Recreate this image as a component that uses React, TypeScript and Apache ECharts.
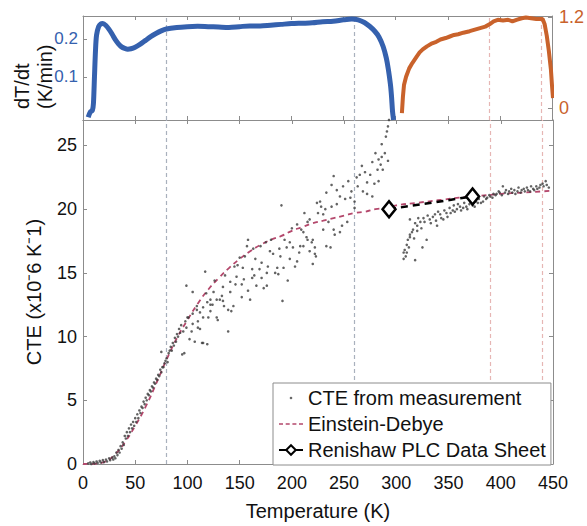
import React, { useEffect, useRef } from "react";
import * as echarts from "echarts";

const FONT = "'Liberation Sans', Arial, Helvetica, sans-serif";

// Temperature axis ticks (K)
const tempTicks = [0, 50, 100, 150, 200, 250, 300, 350, 400, 450];
const cteTicks = [0, 5, 10, 15, 20, 25];
const rateTicks = [0.1, 0.2];
const orangeTicks = [0, 1.2];

// Vertical reference lines (K)
const greyMarkers = [80, 260];
const pinkMarkers = [390, 440];

// Top panel: dT/dt (K/min), blue, left axis
const blueRate: [number, number][] = [
  [5, -0.006], [7, 0.008], [9, 0.012], [10, 0.03], [11, 0.1], [12, 0.17], [13, 0.21], [15, 0.232],
  [17, 0.239], [19, 0.24], [22, 0.235], [25, 0.225], [28, 0.212], [31, 0.198], [34, 0.187], [37, 0.179],
  [40, 0.175], [43, 0.173], [46, 0.174], [50, 0.178], [55, 0.186], [60, 0.196], [65, 0.206], [70, 0.214],
  [75, 0.221], [80, 0.226], [90, 0.23], [100, 0.232], [110, 0.233], [120, 0.232], [130, 0.231],
  [140, 0.23], [150, 0.232], [160, 0.234], [170, 0.234], [180, 0.236], [190, 0.238], [200, 0.24],
  [210, 0.241], [220, 0.242], [230, 0.245], [240, 0.246], [250, 0.25], [258, 0.252], [264, 0.25],
  [270, 0.243], [275, 0.233], [280, 0.22], [284, 0.205], [288, 0.18], [291, 0.15], [293, 0.12],
  [295, 0.08], [296, 0.05], [297, 0.01], [298, -0.013],
];

// Top panel: orange, right axis
const orangeRate: [number, number][] = [
  [306, -0.07], [307, 0.15], [308, 0.3], [310, 0.41], [313, 0.52], [316, 0.59], [320, 0.67], [323, 0.73],
  [326, 0.77], [330, 0.81], [335, 0.85], [339, 0.87], [343, 0.9], [348, 0.92], [352, 0.94], [356, 0.96],
  [360, 0.97], [365, 0.99], [371, 1.01], [376, 1.03], [381, 1.05], [386, 1.07], [390, 1.1], [394, 1.14],
  [398, 1.16], [403, 1.15], [408, 1.16], [412, 1.14], [416, 1.16], [421, 1.18], [425, 1.19], [430, 1.18],
  [435, 1.17], [441, 1.17], [443, 1.1], [445, 0.95], [447, 0.75], [449, 0.5], [450, 0.3], [451, 0.13],
];

// Einstein-Debye model curve
const edTemp = [0, 10, 20, 30, 40, 50, 60, 70, 80, 90, 100, 110, 120, 130, 140, 150, 160, 170, 180, 190,
  200, 210, 220, 230, 240, 250, 260, 270, 280, 290, 300, 320, 340, 360, 380, 400, 420, 440, 450];
const edCte = [0, 0.02, 0.15, 0.7, 1.7, 3.0, 4.5, 6.3, 8.2, 9.9, 11.3, 12.6, 13.7, 14.6, 15.4, 16.1,
  16.7, 17.2, 17.6, 17.9, 18.3, 18.6, 18.9, 19.1, 19.3, 19.5, 19.7, 19.8, 20.0, 20.1, 20.3, 20.5, 20.7,
  20.9, 21.05, 21.2, 21.3, 21.4, 21.45];

// Renishaw PLC data sheet
const renishawTemp = [293, 373];
const renishawCte = [20.0, 21.0];

// CTE from measurement [T, CTE]
const measured: [number, number][] = [
  [5, 0.05], [7, 0.12], [8, 0.0], [10, 0.15], [11, 0.05], [13, 0.2], [14, 0.08], [16, 0.25], [17, 0.12],
  [19, 0.3], [20, 0.15], [22, 0.35], [23, 0.2], [25, 0.45], [26, 0.3], [28, 0.5], [29, 0.35], [30, 0.6],
  [31, 0.45], [32, 0.9], [33, 0.7], [34, 1.1], [35, 0.9], [36, 1.4], [37, 1.2], [38, 1.7], [39, 1.5],
  [40, 2.2], [41, 2.0], [42, 2.5], [43, 2.2], [44, 2.8], [45, 2.5], [46, 3.1], [47, 2.8], [48, 3.3],
  [49, 3.0], [50, 3.6], [51, 3.3], [52, 3.9], [53, 3.6], [54, 4.2], [55, 4.0], [56, 4.5], [57, 4.4],
  [58, 4.9], [59, 4.7], [60, 5.2], [61, 5.0], [62, 5.5], [63, 5.4], [64, 5.8], [65, 5.7], [66, 6.1],
  [67, 6.0], [68, 6.4], [69, 6.3], [70, 6.7], [71, 6.6], [72, 7.0], [73, 6.9], [74, 7.4], [75, 7.2],
  [75, 8.8], [76, 7.6], [77, 7.6], [78, 7.9], [79, 8.1], [80, 8.3], [81, 8.0], [82, 8.7], [83, 8.9],
  [84, 9.2], [85, 8.9], [86, 9.5], [87, 9.3], [88, 9.9], [89, 9.6], [90, 10.2], [91, 10.0], [92, 10.6],
  [93, 10.3], [94, 10.9], [95, 8.6], [96, 10.4], [97, 8.7], [98, 11.2], [99, 10.7], [99, 14.0],
  [100, 11.5], [101, 11.5], [102, 9.8], [104, 10.4], [105, 11.0], [105, 11.8], [105, 13.5], [107, 9.6],
  [109, 12.1], [109, 12.4], [110, 10.7], [110, 11.2], [112, 10.6], [112, 11.9], [114, 9.5], [115, 12.3],
  [115, 11.5], [115, 9.5], [117, 15.1], [118, 13.4], [119, 12.7], [119, 9.4], [120, 11.5], [122, 12.0],
  [122, 12.9], [122, 12.5], [124, 12.5], [125, 13.5], [126, 14.4], [128, 12.9], [128, 11.5], [129, 11.3],
  [131, 12.9], [133, 13.2], [134, 13.9], [134, 12.8], [135, 12.4], [136, 14.8], [139, 12.1], [139, 10.4],
  [141, 14.3], [141, 13.5], [142, 12.0], [144, 12.4], [145, 15.5], [146, 14.1], [147, 14.7], [148, 15.6],
  [150, 16.2], [152, 14.1], [152, 13.1], [153, 15.4], [154, 14.5], [155, 16.3], [157, 17.1], [158, 17.6],
  [158, 13.6], [160, 12.9], [162, 15.3], [162, 14.6], [163, 16.9], [164, 14.8], [165, 16.1], [166, 14.0],
  [169, 15.3], [170, 17.1], [171, 15.8], [171, 14.6], [173, 13.8], [175, 17.4], [176, 15.0], [176, 14.0],
  [177, 15.5], [179, 16.7], [180, 17.6], [182, 16.5], [184, 15.0], [186, 15.4], [187, 14.9], [188, 16.9],
  [189, 16.3], [190, 20.3], [191, 12.8], [192, 15.4], [193, 17.6], [195, 17.0], [196, 14.4], [198, 17.4],
  [198, 16.1], [200, 18.5], [201, 17.0], [203, 15.5], [205, 18.8], [205, 15.9], [207, 16.6], [208, 17.1],
  [209, 18.4], [211, 18.2], [211, 17.1], [212, 19.7], [214, 17.8], [215, 19.0], [215, 17.6], [217, 19.2],
  [217, 16.7], [219, 17.4], [220, 17.6], [220, 15.7], [222, 16.5], [222, 17.0], [223, 16.3], [224, 20.5],
  [225, 19.7], [227, 20.6], [228, 20.2], [230, 19.6], [230, 18.4], [232, 20.0], [233, 21.3], [233, 17.1],
  [235, 19.0], [237, 17.0], [238, 21.9], [238, 20.2], [240, 22.6], [240, 18.4], [241, 18.0], [243, 20.4],
  [243, 21.5], [246, 21.0], [246, 18.2], [248, 18.7], [249, 21.8], [251, 20.8], [253, 19.0], [254, 22.2],
  [256, 20.9], [257, 21.4], [260, 20.6], [260, 20.1], [262, 22.5], [263, 21.8], [265, 22.7], [267, 23.4],
  [268, 21.4], [270, 22.9], [272, 22.1], [272, 21.2], [275, 22.7], [277, 23.7], [277, 21.0], [279, 22.0],
  [280, 24.4], [282, 23.1], [283, 23.9], [283, 22.2], [285, 23.5], [286, 25.1], [286, 24.1], [287, 23.1],
  [289, 24.4], [290, 25.7], [291, 26.1], [292, 26.5], [292, 23.8], [293, 27.0],
  [307, 16.1], [307, 16.6], [308, 16.8], [309, 16.3], [310, 17.2], [310, 16.6], [311, 17.6], [312, 17.0],
  [313, 18.0], [313, 17.8], [313, 19.2], [315, 18.2], [316, 18.4], [317, 17.7], [318, 16.0], [318, 18.9],
  [320, 18.3], [320, 18.7], [321, 19.3], [323, 19.0], [324, 18.5], [325, 17.0], [326, 19.3], [327, 19.0],
  [329, 17.6], [330, 19.5], [332, 19.2], [333, 18.9], [335, 19.4], [337, 19.6], [338, 19.1], [339, 18.7],
  [340, 19.8], [342, 19.6], [343, 19.3], [345, 19.2], [346, 19.9], [348, 19.7], [349, 19.4], [351, 20.1],
  [352, 19.7], [354, 19.9], [355, 20.3], [356, 19.8], [358, 20.0], [359, 20.4], [361, 20.2], [362, 19.9],
  [364, 20.1], [365, 20.5], [367, 20.2], [368, 20.0], [370, 20.4], [371, 20.6], [373, 20.3], [375, 20.2],
  [376, 20.6], [378, 20.5], [379, 20.8], [381, 20.5], [383, 20.6], [384, 21.0], [386, 20.8], [387, 20.9],
  [389, 21.1], [390, 21.0], [392, 20.9], [393, 21.2], [395, 21.1], [396, 21.2], [398, 21.4], [399, 21.3],
  [401, 21.1], [402, 21.8], [404, 21.3], [405, 21.5], [407, 21.2], [408, 21.4], [410, 21.6], [411, 21.3],
  [413, 21.5], [414, 21.2], [416, 21.4], [417, 21.7], [419, 21.3], [420, 21.5], [422, 21.6], [423, 21.4],
  [425, 21.7], [426, 21.5], [428, 21.4], [429, 21.8], [431, 21.6], [432, 21.5], [434, 21.8], [435, 21.6],
  [437, 21.7], [438, 21.9], [440, 22.0], [441, 21.8], [443, 22.2], [444, 21.9], [446, 21.7],
];

const AXIS_COLOR = "#8c8c8c";
const BLUE = "#3561ae";
const ORANGE = "#c9622b";
const ED_COLOR = "#b4486c";
const GREY_MARK = "#a9b1bd";
const PINK_MARK = "#e6b6b4";

const dotIcon = "path://M0,0M24,0M24,12M0,12M10.7,6a1.3,1.3 0 1,0 2.6,0a1.3,1.3 0 1,0 -2.6,0z";
const dashIcon =
  "path://M0,0M24,12M0,5.2h4v1.6h-4zM6.7,5.2h4v1.6h-4zM13.4,5.2h4v1.6h-4zM20,5.2h4v1.6h-4z";

function baseX(gridIndex: number, position: "top" | "bottom", showLabels: boolean, extra: any = {}) {
  return {
    type: "value",
    gridIndex,
    position,
    min: 0,
    max: 450,
    interval: 50,
    axisLine: { show: true, onZero: false, lineStyle: { color: AXIS_COLOR, width: 1 } },
    axisTick: { show: true, inside: true, length: 4, lineStyle: { color: AXIS_COLOR } },
    axisLabel: {
      show: showLabels,
      fontSize: 18,
      color: "#111",
      fontFamily: FONT,
      margin: 10,
      customValues: tempTicks,
    },
    splitLine: { show: false },
    ...extra,
  };
}

function markLineOf(items: { x: number; color: string }[]) {
  return {
    silent: true,
    z: 1,
    symbol: ["none", "none"],
    label: { show: false },
    emphasis: { disabled: true },
    lineStyle: { type: [4, 3], width: 1.2 },
    data: items.map((it) => ({ xAxis: it.x, lineStyle: { color: it.color, type: [4, 3], width: 1.2 } })),
  };
}

export default function App() {
  const ref = useRef<HTMLDivElement>(null);

  useEffect(() => {
    if (!ref.current) return;
    const chart = echarts.init(ref.current, null, { renderer: "svg" });

    const edData = edTemp.map((t, i) => [t, edCte[i]]);
    const renData = renishawTemp.map((t, i) => [t, renishawCte[i]]);

    const option: any = {
      animation: false,
      backgroundColor: "#fff",
      textStyle: { fontFamily: FONT },
      grid: [
        { left: 83, right: 34, top: 16, height: 104 },
        { left: 83, right: 34, top: 120, height: 345 },
      ],
      xAxis: [
        baseX(0, "bottom", false),
        baseX(0, "top", false),
        baseX(1, "bottom", true, {
          name: "Temperature (K)",
          nameLocation: "middle",
          nameGap: 37,
          nameTextStyle: { fontSize: 20, color: "#111", fontFamily: FONT },
        }),
        baseX(1, "top", false),
      ],
      yAxis: [
        {
          type: "value",
          gridIndex: 0,
          position: "left",
          min: -0.013,
          max: 0.26,
          axisLine: { show: true, onZero: false, lineStyle: { color: AXIS_COLOR } },
          axisTick: { show: true, inside: true, length: 4, customValues: rateTicks, lineStyle: { color: AXIS_COLOR } },
          axisLabel: { customValues: rateTicks, color: BLUE, fontSize: 17, margin: 5, fontFamily: FONT },
          splitLine: { show: false },
        },
        {
          type: "value",
          gridIndex: 0,
          position: "right",
          min: -0.16,
          max: 1.21,
          axisLine: { show: true, onZero: false, lineStyle: { color: AXIS_COLOR } },
          axisTick: { show: true, inside: true, length: 4, customValues: orangeTicks, lineStyle: { color: AXIS_COLOR } },
          axisLabel: { customValues: orangeTicks, color: ORANGE, fontSize: 18, margin: 7, fontFamily: FONT },
          splitLine: { show: false },
        },
        {
          type: "value",
          gridIndex: 1,
          position: "left",
          min: 0,
          max: 27,
          name: "CTE (x10\u207B6 K\u207B1)",
          nameLocation: "middle",
          nameGap: 39,
          nameRotate: 90,
          nameTextStyle: { fontSize: 20, color: "#111", fontFamily: FONT },
          axisLine: { show: true, onZero: false, lineStyle: { color: AXIS_COLOR } },
          axisTick: { show: true, inside: true, length: 4, customValues: cteTicks, lineStyle: { color: AXIS_COLOR } },
          axisLabel: { customValues: cteTicks, color: "#111", fontSize: 18, margin: 6, fontFamily: FONT },
          splitLine: { show: false },
        },
        {
          type: "value",
          gridIndex: 1,
          position: "right",
          min: 0,
          max: 27,
          axisLine: { show: true, onZero: false, lineStyle: { color: AXIS_COLOR } },
          axisTick: { show: true, inside: true, length: 4, customValues: cteTicks, lineStyle: { color: AXIS_COLOR } },
          axisLabel: { show: false },
          splitLine: { show: false },
        },
      ],
      legend: {
        orient: "vertical",
        left: 273,
        top: 383,
        padding: [5, 5, 5, 5],
        itemGap: 6,
        itemWidth: 24,
        itemHeight: 12,
        backgroundColor: "#fff",
        borderColor: AXIS_COLOR,
        borderWidth: 1,
        borderRadius: 0,
        selectedMode: false,
        z: 10,
        textStyle: { fontSize: 20, lineHeight: 20, color: "#111", fontFamily: FONT },
        data: [
          { name: "CTE from measurement", icon: dotIcon, itemStyle: { color: "#444" } },
          { name: "Einstein-Debye", icon: dashIcon, itemStyle: { color: ED_COLOR } },
          { name: "Renishaw PLC Data Sheet", lineStyle: { type: "solid", width: 2 } },
        ],
      },
      graphic: [
        {
          type: "text",
          x: 10,
          y: 109,
          rotation: Math.PI / 2,
          silent: true,
          style: {
            text: "dT/dt\n(K/min)",
            fontSize: 20,
            lineHeight: 23,
            fontFamily: FONT,
            fill: "#111",
            align: "left",
            verticalAlign: "top",
          },
        },
      ],
      series: [
        {
          name: "dT/dt blue",
          type: "line",
          xAxisIndex: 0,
          yAxisIndex: 0,
          data: blueRate,
          symbol: "none",
          smooth: 0.3,
          lineStyle: { color: BLUE, width: 5 },
          itemStyle: { color: BLUE },
          markLine: markLineOf(greyMarkers.map((x) => ({ x, color: GREY_MARK }))),
        },
        {
          name: "dT/dt orange",
          type: "line",
          xAxisIndex: 0,
          yAxisIndex: 1,
          data: orangeRate,
          symbol: "none",
          clip: false,
          lineStyle: { color: ORANGE, width: 4 },
          itemStyle: { color: ORANGE },
          markLine: markLineOf(pinkMarkers.map((x) => ({ x, color: PINK_MARK }))),
        },
        {
          name: "Einstein-Debye",
          type: "line",
          xAxisIndex: 2,
          yAxisIndex: 2,
          data: edData,
          symbol: "none",
          smooth: true,
          z: 3,
          lineStyle: { color: ED_COLOR, width: 1.8, type: [5, 4] },
          itemStyle: { color: ED_COLOR },
          markLine: markLineOf([
            ...greyMarkers.map((x) => ({ x, color: GREY_MARK })),
            ...pinkMarkers.map((x) => ({ x, color: PINK_MARK })),
          ]),
        },
        {
          name: "CTE from measurement",
          type: "scatter",
          xAxisIndex: 2,
          yAxisIndex: 2,
          data: measured,
          symbol: "circle",
          symbolSize: 2.6,
          z: 4,
          itemStyle: { color: "#3c3c3c" },
        },
        {
          name: "Renishaw PLC Data Sheet",
          type: "line",
          xAxisIndex: 2,
          yAxisIndex: 2,
          data: renData,
          symbol: "diamond",
          symbolSize: [13, 16],
          z: 5,
          lineStyle: { color: "#000", width: 2.5, type: [7, 5] },
          itemStyle: { color: "#fff", borderColor: "#000", borderWidth: 2.5 },
        },
      ],
    };

    chart.setOption(option);
    return () => chart.dispose();
  }, []);

  return (
    <div
      ref={ref}
      style={{ position: "absolute", left: 0, top: 0, width: 587, height: 526, background: "#fff" }}
    />
  );
}
